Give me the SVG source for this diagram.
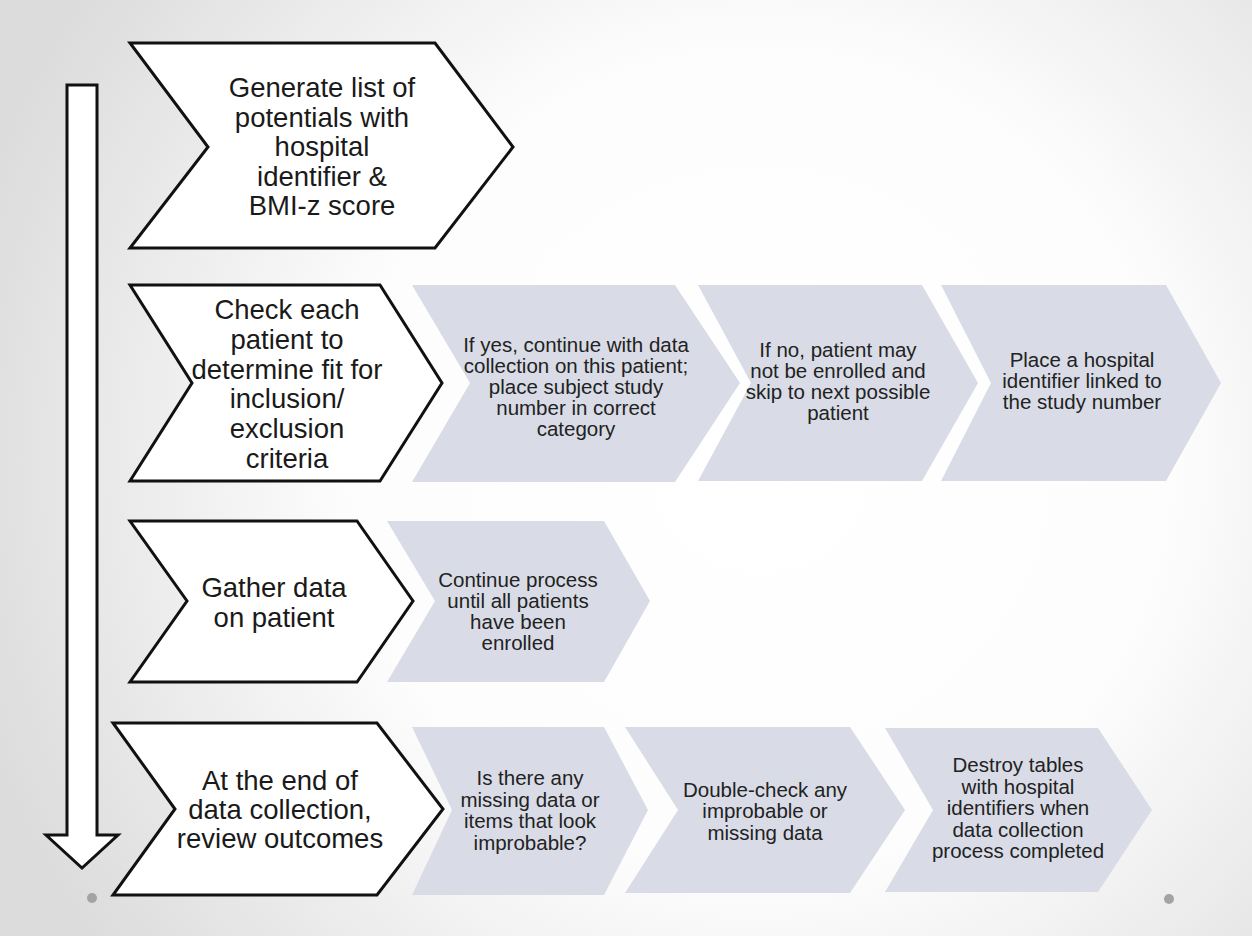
<svg xmlns="http://www.w3.org/2000/svg" width="1252" height="936" viewBox="0 0 1252 936">
<defs>
<radialGradient id="bg" cx="760" cy="460" r="820" gradientUnits="userSpaceOnUse">
<stop offset="0" stop-color="#ffffff"/>
<stop offset="0.5" stop-color="#fdfdfd"/>
<stop offset="1" stop-color="#dcdcdc"/>
</radialGradient>
<style>
.main{fill:#ffffff;stroke:#111111;stroke-width:3;stroke-linejoin:miter}
.sub{fill:#d9dce6;stroke:none}
.tm{font-family:"Liberation Sans",Arial,sans-serif;font-size:27.5px;fill:#1a1a1a;text-anchor:middle}
.ts{font-family:"Liberation Sans",Arial,sans-serif;font-size:20.5px;fill:#222222;text-anchor:middle}
.dot{fill:#a3a3a3}
</style>
</defs>
<rect x="0" y="0" width="1252" height="936" fill="url(#bg)"/>

<g id="connectors">
<path class="main" d="M67,85 H97 V835 H118 L82,868 L46,835 H67 Z"/>
</g>

<g id="step1">
<polygon class="main" points="130,43 435,43 513,147 435,248 130,248 208,147"/>
<text class="tm"><tspan x="322" y="97">Generate list of</tspan><tspan x="322" y="126.5">potentials with</tspan><tspan x="322" y="156">hospital</tspan><tspan x="322" y="185.5">identifier &amp;</tspan><tspan x="322" y="215">BMI-z score</tspan></text>
</g>

<g id="step2">
<polygon class="main" points="130,285 380,285 442,383 380,481 130,481 192,383"/>
<text class="tm"><tspan x="287" y="319">Check each</tspan><tspan x="287" y="348.8">patient to</tspan><tspan x="287" y="378.6">determine fit for</tspan><tspan x="287" y="408.4">inclusion/</tspan><tspan x="287" y="438.2">exclusion</tspan><tspan x="287" y="468">criteria</tspan></text>
</g>

<g id="step2a">
<polygon class="sub" points="412,285 675,285 740,383 675,482 412,482 470,383"/>
<text class="ts"><tspan x="576" y="352">If yes, continue with data</tspan><tspan x="576" y="373">collection on this patient;</tspan><tspan x="576" y="394">place subject study</tspan><tspan x="576" y="415">number in correct</tspan><tspan x="576" y="436">category</tspan></text>
</g>

<g id="step2b">
<polygon class="sub" points="698,285 922,285 978,383 922,481 698,481 751,383"/>
<text class="ts"><tspan x="838" y="357">If no, patient may</tspan><tspan x="838" y="378">not be enrolled and</tspan><tspan x="838" y="399">skip to next possible</tspan><tspan x="838" y="420">patient</tspan></text>
</g>

<g id="step2c">
<polygon class="sub" points="941,285 1166,285 1221,383 1166,481 941,481 991,383"/>
<text class="ts"><tspan x="1082" y="367">Place a hospital</tspan><tspan x="1082" y="388">identifier linked to</tspan><tspan x="1082" y="409">the study number</tspan></text>
</g>

<g id="step3">
<polygon class="main" points="130,521 357,521 413,601 357,682 130,682 187,601"/>
<text class="tm"><tspan x="274" y="597">Gather data</tspan><tspan x="274" y="627">on patient</tspan></text>
</g>

<g id="step3a">
<polygon class="sub" points="387,521 604,521 650,601 604,682 387,682 435,601"/>
<text class="ts"><tspan x="518" y="587">Continue process</tspan><tspan x="518" y="608">until all patients</tspan><tspan x="518" y="629">have been</tspan><tspan x="518" y="650">enrolled</tspan></text>
</g>

<g id="step4">
<polygon class="main" points="113,723 377,723 443,809 377,895 113,895 175,809"/>
<text class="tm"><tspan x="280" y="790">At the end of</tspan><tspan x="280" y="819">data collection,</tspan><tspan x="280" y="848">review outcomes</tspan></text>
</g>

<g id="step4a">
<polygon class="sub" points="412,727 604,727 648,810 604,895 412,895 452,810"/>
<text class="ts"><tspan x="530" y="785">Is there any</tspan><tspan x="530" y="806.5">missing data or</tspan><tspan x="530" y="828">items that look</tspan><tspan x="530" y="849.5">improbable?</tspan></text>
</g>

<g id="step4b">
<polygon class="sub" points="625,727 850,727 905,810 850,893 625,893 678,810"/>
<text class="ts"><tspan x="765" y="796.5">Double-check any</tspan><tspan x="765" y="818">improbable or</tspan><tspan x="765" y="839.5">missing data</tspan></text>
</g>

<g id="step4c">
<polygon class="sub" points="885,728 1098,728 1152,810 1098,892 885,892 933,810"/>
<text class="ts"><tspan x="1018" y="772">Destroy tables</tspan><tspan x="1018" y="793.5">with hospital</tspan><tspan x="1018" y="815">identifiers when</tspan><tspan x="1018" y="836.5">data collection</tspan><tspan x="1018" y="858">process completed</tspan></text>
</g>

<circle class="dot" cx="92" cy="898" r="5"/>
<circle class="dot" cx="1169" cy="899" r="5"/>
</svg>
